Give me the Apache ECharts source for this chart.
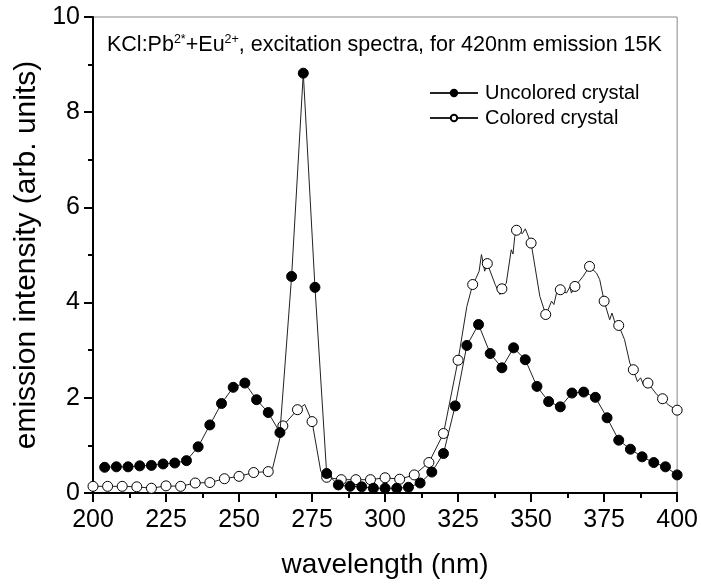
<!DOCTYPE html>
<html>
<head>
<meta charset="utf-8">
<script src="https://cdn.jsdelivr.net/npm/echarts@6/dist/echarts.min.js"></script>
<style>
    html, body { margin: 0; padding: 0; background: #fff; }
    #chart { width: 701px; height: 584px; }
</style>
</head>
<body>
<div id="chart"></div>
<script>
// x ticks (nm) and y ticks
const xTicks = [200, 225, 250, 275, 300, 325, 350, 375, 400]
const yTicks = [0, 2, 4, 6, 8, 10]

// Uncolored crystal, one marker every 4 nm
const uncoloredX = [204, 208, 212, 216, 220, 224, 228, 232, 236, 240, 244, 248, 252, 256, 260, 264, 268, 272, 276, 280,
    284, 288, 292, 296, 300, 304, 308, 312, 316, 320, 324, 328, 332, 336, 340, 344, 348, 352, 356, 360,
    364, 368, 372, 376, 380, 384, 388, 392, 396, 400]
const uncoloredY = [0.54, 0.55, 0.55, 0.57, 0.58, 0.61, 0.63, 0.68, 0.97, 1.43, 1.88, 2.22, 2.31, 1.96, 1.69, 1.27, 4.55, 8.82, 4.32, 0.41,
    0.17, 0.14, 0.13, 0.10, 0.10, 0.10, 0.12, 0.21, 0.44, 0.83, 1.83, 3.10, 3.54, 2.93, 2.63, 3.05, 2.80, 2.24, 1.92, 1.81,
    2.10, 2.12, 2.01, 1.58, 1.11, 0.92, 0.76, 0.64, 0.55, 0.38]

// Colored crystal, markers every 5 nm
const coloredX = [200, 205, 210, 215, 220, 225, 230, 235, 240, 245, 250, 255, 260, 265, 270, 275, 280, 285, 290, 295,
    300, 305, 310, 315, 320, 325, 330, 335, 340, 345, 350, 355, 360, 365, 370, 375, 380, 385, 390, 395, 400]
const coloredY = [0.14, 0.14, 0.14, 0.13, 0.10, 0.15, 0.14, 0.21, 0.22, 0.30, 0.35, 0.43, 0.45, 1.41, 1.75, 1.50, 0.33, 0.28, 0.28, 0.28,
    0.32, 0.29, 0.38, 0.64, 1.25, 2.79, 4.38, 4.82, 4.29, 5.52, 5.25, 3.75, 4.27, 4.34, 4.76, 4.03, 3.52, 2.59, 2.31, 1.98, 1.74]

// Colored crystal, noisy in-between readings (line only, no marker)
const coloredNoiseX = [261.5, 272.5, 278, 328, 331.2, 332.2, 333, 334.1, 337.7, 339.3, 341.5, 343.2, 343.8, 344.4, 347, 348, 353,
    355.8, 357, 357.8, 358.7, 362.1, 363.3, 363.8, 367.8, 372.4, 373.5, 376.9, 377.7, 378.7, 382, 383.8, 386.4, 387.5, 388.4, 393, 397]
const coloredNoiseY = [0.52, 1.86, 0.45, 3.92, 4.52, 4.66, 5.01, 4.66, 4.38, 4.17, 4.41, 5.11, 5.02, 5.39, 5.45, 5.55, 4.13,
    3.85, 4.03, 3.96, 4.20, 4.20, 4.33, 4.20, 4.55, 4.62, 4.48, 3.64, 3.78, 3.58, 3.22, 2.73, 2.34, 2.42, 2.28, 2.07, 1.85]

const FONT = 'Liberation Sans'

const uncoloredData = uncoloredX.map((x, i) => [x, uncoloredY[i]])
const coloredData = coloredX.map((x, i) => ({ value: [x, coloredY[i]] }))
    .concat(coloredNoiseX.map((x, i) => ({ value: [x, coloredNoiseY[i]], symbol: 'none' })))
    .sort((a, b) => a.value[0] - b.value[0])

const chart = echarts.init(document.getElementById('chart'), null, { renderer: 'canvas' })

chart.setOption({
    animation: false,
    backgroundColor: '#fff',
    title: {
        text: 'KCl:Pb{sup|2*}+Eu{sup|2+}, excitation spectra, for 420nm emission 15K',
        left: 102,
        top: 28,
        textStyle: {
            fontFamily: FONT,
            fontSize: 21.5,
            fontWeight: 'normal',
            color: '#000',
            lineHeight: 25,
            rich: {
                sup: { fontFamily: FONT, fontSize: 12.5, color: '#000', verticalAlign: 'top', lineHeight: 25 }
            }
        }
    },
    legend: {
        orient: 'vertical',
        left: 424,
        top: 78,
        itemWidth: 48,
        itemHeight: 8,
        itemGap: 5,
        textStyle: { fontFamily: FONT, fontSize: 20, color: '#000', padding: [0, 0, 0, 2] },
        data: ['Uncolored crystal', 'Colored crystal']
    },
    grid: {
        left: 93,
        right: 23,
        top: 17,
        bottom: 90,
        show: true,
        borderColor: '#888',
        borderWidth: 1
    },
    xAxis: {
        type: 'value',
        min: xTicks[0],
        max: xTicks[xTicks.length - 1],
        interval: 25,
        name: 'wavelength (nm)',
        nameLocation: 'middle',
        nameGap: 58,
        nameTextStyle: { fontFamily: FONT, fontSize: 28, color: '#000' },
        axisLine: { onZero: false, lineStyle: { color: '#000', width: 2 } },
        axisTick: { inside: false, length: 9, lineStyle: { color: '#000', width: 2 } },
        minorTick: { show: true, splitNumber: 2, length: 5, lineStyle: { color: '#000', width: 2 } },
        axisLabel: { fontFamily: FONT, fontSize: 25, color: '#000', margin: 15 },
        splitLine: { show: false }
    },
    yAxis: {
        type: 'value',
        min: yTicks[0],
        max: yTicks[yTicks.length - 1],
        interval: 2,
        name: 'emission intensity (arb. units)',
        nameLocation: 'middle',
        nameGap: 50,
        nameTextStyle: { fontFamily: FONT, fontSize: 30, color: '#000' },
        axisLine: { lineStyle: { color: '#000', width: 2 } },
        axisTick: { inside: false, length: 9, lineStyle: { color: '#000', width: 2 } },
        minorTick: { show: true, splitNumber: 2, length: 5, lineStyle: { color: '#000', width: 2 } },
        axisLabel: { fontFamily: FONT, fontSize: 25, color: '#000', margin: 13 },
        splitLine: { show: false }
    },
    series: [
        {
            name: 'Uncolored crystal',
            type: 'line',
            data: uncoloredData,
            symbol: 'circle',
            symbolSize: 10,
            showAllSymbol: true,
            lineStyle: { color: '#222', width: 1 },
            itemStyle: { color: '#000', borderColor: '#000', borderWidth: 1 },
            z: 3
        },
        {
            name: 'Colored crystal',
            type: 'line',
            data: coloredData,
            symbol: 'circle',
            symbolSize: 10,
            showAllSymbol: true,
            lineStyle: { color: '#222', width: 1 },
            itemStyle: { color: '#fff', borderColor: '#000', borderWidth: 1 },
            z: 2
        }
    ]
})
</script>
</body>
</html>
